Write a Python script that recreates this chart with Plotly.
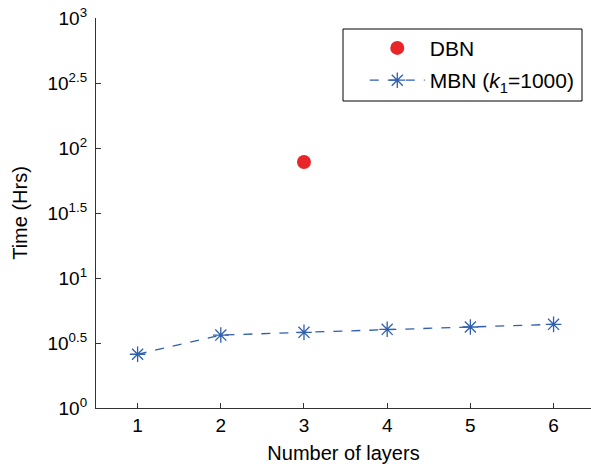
import plotly.graph_objects as go

layers = [1, 2, 3, 4, 5, 6]
mbn_time = [2.59, 3.64, 3.82, 4.03, 4.20, 4.40]
dbn_layers = [3]
dbn_time = [78]
ytick_exp = [0, 0.5, 1, 1.5, 2, 2.5, 3]
ytick_text = ["10<sup>0</sup>", "10<sup>0.5</sup>", "10<sup>1</sup>", "10<sup>1.5</sup>",
              "10<sup>2</sup>", "10<sup>2.5</sup>", "10<sup>3</sup>"]

fig = go.Figure()
fig.add_trace(go.Scatter(
    x=dbn_layers, y=dbn_time, mode="markers", name="DBN", legendgroup="a",
    marker=dict(color="#e8262a", size=14, symbol="circle")))
fig.add_trace(go.Scatter(
    x=layers, y=mbn_time, mode="lines+markers", legendgroup="b",
    name="MBN (<i>k</i><sub>1</sub>=1000)",
    line=dict(color="#2e5fb0", width=1.3, dash="dash"),
    marker=dict(symbol="asterisk-open", size=13, color="#2e5fb0",
                line=dict(color="#2e5fb0", width=1.3))))

font = "Liberation Sans, Arial, Helvetica, sans-serif"
fig.update_layout(
    width=591, height=464,
    margin=dict(l=96, r=0, t=18, b=56),
    paper_bgcolor="white", plot_bgcolor="white",
    font=dict(family=font, size=20, color="black"),
    showlegend=True,
    legend=dict(x=0.543, y=0.975, xanchor="left", yanchor="top",
                borderwidth=0, bgcolor="rgba(0,0,0,0)",
                font=dict(family=font, size=21, color="black"),
                traceorder="grouped", tracegroupgap=2, itemwidth=55),
    shapes=[dict(type="rect", xref="paper", yref="paper",
                 x0=(343 - 96) / 495, x1=(582 - 96) / 495,
                 y0=(408 - 101) / 390, y1=(408 - 29) / 390,
                 line=dict(color="black", width=1), fillcolor="white",
                 layer="below")],
    xaxis=dict(range=[0.5, 6.45], tickvals=layers, ticks="inside", ticklen=5,
               showline=True, linecolor="#333", linewidth=1.3, showgrid=False,
               zeroline=False, tickcolor="#333",
               tickfont=dict(family=font, size=19, color="black"),
               title=dict(text="Number of layers", standoff=13,
                          font=dict(family=font, size=20, color="black"))),
    yaxis=dict(type="log", range=[0, 3], tickvals=[10 ** e for e in ytick_exp],
               ticktext=ytick_text, ticks="inside", ticklen=5,
               showline=True, linecolor="#333", linewidth=1.3, showgrid=False,
               zeroline=False, tickcolor="#333", ticklabelstandoff=4,
               tickfont=dict(family=font, size=19, color="black"),
               title=dict(text="Time (Hrs)", standoff=14,
                          font=dict(family=font, size=20, color="black"))),
)

fig.write_html("out.html")
